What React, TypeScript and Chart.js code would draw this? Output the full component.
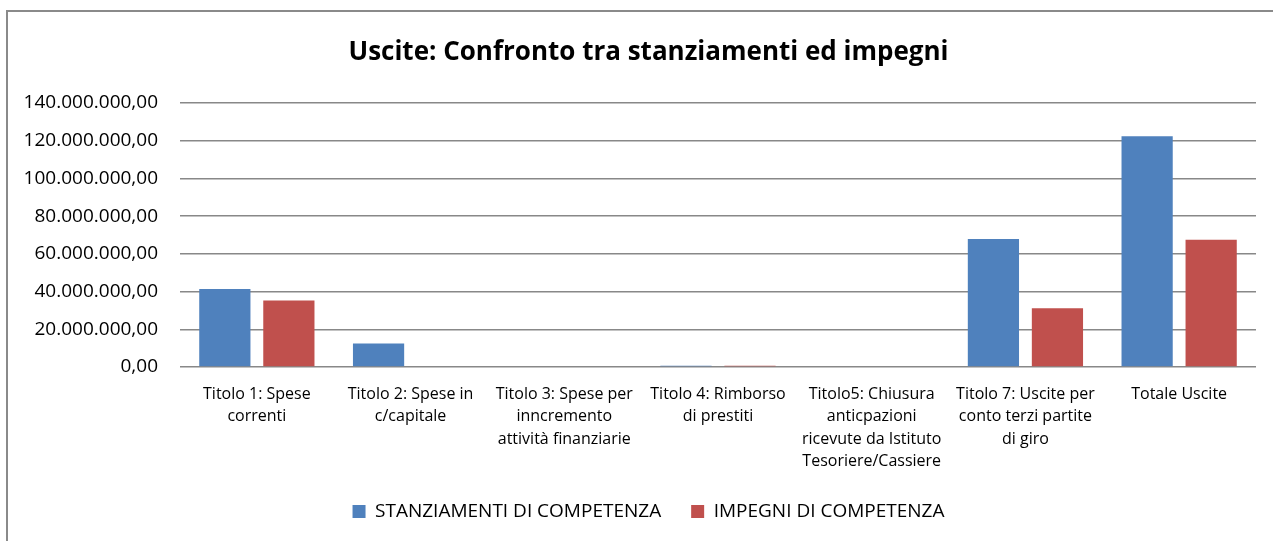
import React, { useEffect, useRef } from "react";
import { Chart, registerables } from "chart.js";

Chart.register(...registerables);

const chartTitle = "Uscite: Confronto tra stanziamenti ed impegni";

const categories: string[][] = [
  ["Titolo 1: Spese", "correnti"],
  ["Titolo 2: Spese in", "c/capitale"],
  ["Titolo 3: Spese per", "inncremento", "attività finanziarie"],
  ["Titolo 4: Rimborso", "di prestiti"],
  ["Titolo5: Chiusura", "anticpazioni", "ricevute da Istituto", "Tesoriere/Cassiere"],
  ["Titolo 7: Uscite per", "conto terzi partite", "di giro"],
  ["Totale Uscite"],
];

const seriesNames = ["STANZIAMENTI DI COMPETENZA", "IMPEGNI DI COMPETENZA"];

const stanziamenti = [41300000, 12500000, 0, 700000, 0, 67900000, 122400000];
const impegni = [35300000, 0, 0, 700000, 0, 31200000, 67500000];

const yMin = 0;
const yMax = 140000000;
const yStep = 20000000;

const FONT = "'Open Sans', 'Liberation Sans', sans-serif";

function formatIt(v: number): string {
  const neg = v < 0;
  const abs = Math.abs(v);
  const intPart = Math.floor(abs);
  const dec = Math.round((abs - intPart) * 100);
  const s = String(intPart).replace(/\B(?=(\d{3})+(?!\d))/g, ".");
  return (neg ? "-" : "") + s + "," + String(dec).padStart(2, "0");
}

export default function App() {
  const canvasRef = useRef<HTMLCanvasElement | null>(null);

  useEffect(() => {
    if (!canvasRef.current) return;
    const chart = new Chart(canvasRef.current, {
      type: "bar",
      data: {
        labels: categories,
        datasets: [
          {
            label: seriesNames[0],
            data: stanziamenti,
            backgroundColor: "#4F81BD",
            barPercentage: 0.8,
            categoryPercentage: 0.833,
          },
          {
            label: seriesNames[1],
            data: impegni,
            backgroundColor: "#C0504D",
            barPercentage: 0.8,
            categoryPercentage: 0.833,
          },
        ],
      },
      options: {
        animation: false,
        responsive: true,
        maintainAspectRatio: false,
        layout: { padding: { left: 24, right: 0, top: 0, bottom: 10 } },
        plugins: {
          title: {
            display: true,
            text: chartTitle,
            color: "#000",
            font: { family: FONT, size: 26, weight: "bold", lineHeight: 1.2 },
            padding: { top: 37.4, bottom: 34.4 },
          },
          legend: {
            display: true,
            position: "bottom",
            labels: {
              boxWidth: 13,
              boxHeight: 13,
              padding: 30,
              color: "#000",
              font: { family: FONT, size: 19 },
            },
          },
          tooltip: { enabled: false },
        },
        scales: {
          x: {
            grid: { display: false },
            border: { display: false },
            ticks: {
              color: "#000",
              font: { family: FONT, size: 16, lineHeight: 1.4 },
              maxRotation: 0,
              minRotation: 0,
              autoSkip: false,
              padding: 8,
            },
            afterFit: (s: any) => {
              s.height = 105;
              s.paddingRight = 17;
            },
          },
          y: {
            min: yMin,
            max: yMax,
            grid: { color: "#888888", lineWidth: 1.5, drawTicks: false },
            border: { display: false },
            ticks: {
              stepSize: yStep,
              color: "#000",
              font: { family: FONT, size: 19 },
              padding: 22,
              callback: (v: any) => formatIt(Number(v)),
            },
            afterFit: (s: any) => {
              s.width = 156;
            },
          },
        },
      },
    });
    return () => chart.destroy();
  }, []);

  return (
    <div
      style={{
        position: "absolute",
        left: 0,
        top: 0,
        width: 1273,
        height: 541,
        overflow: "hidden",
        background: "#fff",
      }}
    >
      <div
        style={{
          position: "absolute",
          left: 6,
          top: 10,
          width: 1400,
          height: 700,
          borderLeft: "2px solid #8a8a8a",
          borderTop: "2px solid #8a8a8a",
        }}
      />
      <canvas ref={canvasRef} style={{ position: "absolute", left: 0, top: 0 }} />
    </div>
  );
}
